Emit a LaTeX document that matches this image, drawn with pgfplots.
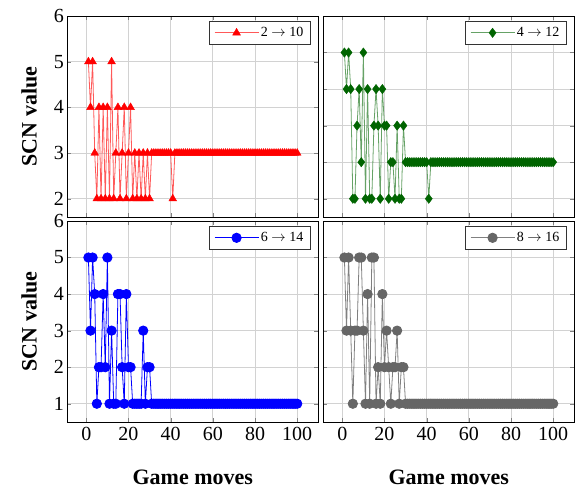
\documentclass[border=0pt]{standalone}
\usepackage{fontspec}
\setmainfont{Liberation Serif}
\usepackage{pgfplots}
\pgfplotsset{compat=1.18}
\usepackage{pgfplotstable}
\usepgfplotslibrary{groupplots}

\definecolor{dkgreen}{RGB}{0,100,0}
\definecolor{dkgray}{RGB}{102,102,102}

% x  red(2->10) green(4->12) blue(6->14) gray(8->16)
\pgfplotstableread{
x R G B K
1 5 5.2 5 5
2 4 4.4 3 3
3 5 5.2 5 5
4 3 4.4 4 3
5 2 2 1 1
6 4 2 2 3
7 2 3.6 2 3
8 4 4.4 4 5
9 2 2.8 2 5
10 4 5.2 5 3
11 2 2 1 1
12 5 4.4 3 4
13 2 2 1 1
14 3 2 1 5
15 4 3.6 4 5
16 2 4.4 4 1
17 3 3.6 2 2
18 4 2 1 1
19 2 4.4 4 4
20 3 3.6 2 2
21 4 3.6 2 3
22 2 2 1 2
23 3 2.8 1 1
24 2 2.8 1 2
25 3 2 1 2
26 2 3.6 1 3
27 3 2 3 1
28 2 2 1 2
29 3 3.6 2 2
30 2 2.8 2 1
31 3 2.8 1 1
32 3 2.8 1 1
33 3 2.8 1 1
34 3 2.8 1 1
35 3 2.8 1 1
36 3 2.8 1 1
37 3 2.8 1 1
38 3 2.8 1 1
39 3 2.8 1 1
40 3 2.8 1 1
41 2 2 1 1
42 3 2.8 1 1
43 3 2.8 1 1
44 3 2.8 1 1
45 3 2.8 1 1
46 3 2.8 1 1
47 3 2.8 1 1
48 3 2.8 1 1
49 3 2.8 1 1
50 3 2.8 1 1
51 3 2.8 1 1
52 3 2.8 1 1
53 3 2.8 1 1
54 3 2.8 1 1
55 3 2.8 1 1
56 3 2.8 1 1
57 3 2.8 1 1
58 3 2.8 1 1
59 3 2.8 1 1
60 3 2.8 1 1
61 3 2.8 1 1
62 3 2.8 1 1
63 3 2.8 1 1
64 3 2.8 1 1
65 3 2.8 1 1
66 3 2.8 1 1
67 3 2.8 1 1
68 3 2.8 1 1
69 3 2.8 1 1
70 3 2.8 1 1
71 3 2.8 1 1
72 3 2.8 1 1
73 3 2.8 1 1
74 3 2.8 1 1
75 3 2.8 1 1
76 3 2.8 1 1
77 3 2.8 1 1
78 3 2.8 1 1
79 3 2.8 1 1
80 3 2.8 1 1
81 3 2.8 1 1
82 3 2.8 1 1
83 3 2.8 1 1
84 3 2.8 1 1
85 3 2.8 1 1
86 3 2.8 1 1
87 3 2.8 1 1
88 3 2.8 1 1
89 3 2.8 1 1
90 3 2.8 1 1
91 3 2.8 1 1
92 3 2.8 1 1
93 3 2.8 1 1
94 3 2.8 1 1
95 3 2.8 1 1
96 3 2.8 1 1
97 3 2.8 1 1
98 3 2.8 1 1
99 3 2.8 1 1
100 3 2.8 1 1
}\data

\begin{document}
\begin{tikzpicture}
\begin{groupplot}[
    group style={group size=2 by 2, horizontal sep=5pt, vertical sep=4pt,
        xticklabels at=edge bottom, yticklabels at=edge left},
    width=251pt, height=201pt, scale only axis,
    xmin=-9, xmax=110, xtick={0,20,...,100},
    grid=major, grid style={gray!35, line width=0.7pt},
    axis line style={line width=0.8pt},
    major tick length=4pt,
    tick label style={font=\fontsize{20}{23}\selectfont},
    xticklabel style={yshift=-2pt},
    /pgf/number format/assume math mode=true,
    label style={font=\bfseries\fontsize{22}{26}\selectfont},
    xlabel style={yshift=-22pt},
    ylabel style={yshift=10pt},
    legend style={at={(0.97,0.975)}, anchor=north east, draw=black!80,
        line width=0.8pt, font=\fontsize{14}{16}\selectfont,
        inner xsep=5pt, inner ysep=4pt},
    legend cell align=left,
    legend image code/.code={\draw[mark repeat=2,mark phase=2]
        plot coordinates {(0pt,0pt) (22pt,0pt) (44pt,0pt)};},
]
\nextgroupplot[ymin=1.6, ymax=6, ytick={2,...,6}, ylabel={SCN value}]
\addplot[red!65, line width=0.8pt, mark=triangle*, mark size=4.5pt,
    mark options={draw=red, fill=red, line width=0.4pt}]
    table[x=x, y=R]{\data};
\addlegendentry{2 $\rightarrow$ 10}

\nextgroupplot[ymin=1.6, ymax=6, ytick={2,2.8,3.6,4.4,5.2}]
\addplot[dkgreen!60, line width=0.8pt, mark=diamond*, mark size=4.7pt,
    mark options={draw=dkgreen, fill=dkgreen, line width=0.4pt}]
    table[x=x, y=G]{\data};
\addlegendentry{4 $\rightarrow$ 12}

\nextgroupplot[ymin=0.5, ymax=6, ytick={1,...,6}, ylabel={SCN value},
    xlabel={Game moves}]
\addplot[blue, line width=0.8pt, mark=*, mark size=4.7pt,
    mark options={draw=blue, fill=blue}]
    table[x=x, y=B]{\data};
\addlegendentry{6 $\rightarrow$ 14}

\nextgroupplot[ymin=0.5, ymax=6, ytick={1,...,6}, xlabel={Game moves}]
\addplot[gray, line width=0.8pt, mark=*, mark size=4.7pt,
    mark options={draw=dkgray, fill=dkgray}]
    table[x=x, y=K]{\data};
\addlegendentry{8 $\rightarrow$ 16}
\end{groupplot}
\path ([shift={(-67.3pt,16pt)}]group c1r1.north west) rectangle ++(578pt,-488pt);
\end{tikzpicture}
\end{document}
